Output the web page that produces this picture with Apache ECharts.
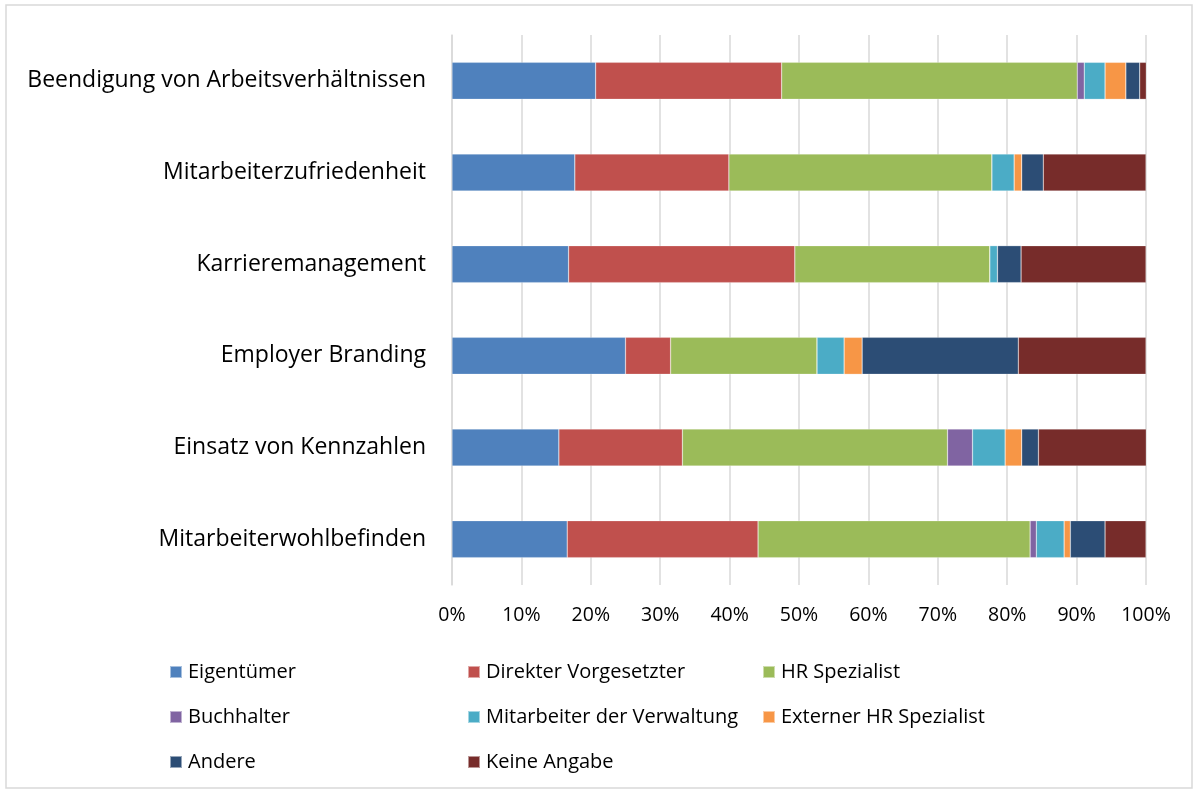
<!DOCTYPE html>
<html>
<head>
<meta charset="utf-8">
<script src="https://cdn.jsdelivr.net/npm/echarts@6/dist/echarts.min.js"></script>
<style>
html,body{margin:0;padding:0;background:#fff;}
#chart{width:1198px;height:792px;}
</style>
</head>
<body>
<div id="chart"></div>
<script>
const categories = ["Beendigung von Arbeitsverhältnissen","Mitarbeiterzufriedenheit","Karrieremanagement","Employer Branding","Einsatz von Kennzahlen","Mitarbeiterwohlbefinden"];
const seriesNames = ["Eigentümer","Direkter Vorgesetzter","HR Spezialist","Buchhalter","Mitarbeiter der Verwaltung","Externer HR Spezialist","Andere","Keine Angabe"];
const eigentuemer = [20.7,17.7,16.8,25.0,15.4,16.6];
const direkter = [26.8,22.2,32.6,6.5,17.8,27.5];
const hrSpezialist = [42.6,37.9,28.1,21.1,38.2,39.2];
const buchhalter = [1.0,0,0,0,3.6,0.9];
const mitarbeiterVerw = [3.0,3.2,1.1,3.9,4.7,4.0];
const externer = [3.0,1.1,0,2.6,2.4,0.9];
const andere = [2.0,3.1,3.4,22.5,2.4,5.0];
const keineAngabe = [1.0,14.8,18.0,18.4,15.6,5.9];
const xTicks = [0,10,20,30,40,50,60,70,80,90,100];

const values = [eigentuemer,direkter,hrSpezialist,buchhalter,mitarbeiterVerw,externer,andere,keineAngabe];
const colors = ["#4F81BD","#C0504D","#9BBB59","#8064A2","#4BACC6","#F79646","#2C4D75","#772C2A"];
const font = "'Open Sans', sans-serif";

const chart = echarts.init(document.getElementById('chart'));
const legendCommon = {
  orient:'vertical', top:657, itemWidth:12, itemHeight:12, itemGap:25,
  icon:'rect', selectedMode:false,
  textStyle:{fontFamily:font, fontSize:20, lineHeight:20, color:'#000', padding:[0,0,0,1]}
};
chart.setOption({
  animation:false,
  color:colors,
  graphic:[{type:'rect', shape:{x:6,y:5,width:1186,height:783}, style:{fill:'none', stroke:'#d9d9d9', lineWidth:1.5}}],
  grid:{left:452, top:35, width:694, height:550, containLabel:false},
  legend:[
    Object.assign({}, legendCommon, {left:164, data:[seriesNames[0],seriesNames[3],seriesNames[6]]}),
    Object.assign({}, legendCommon, {left:462, data:[seriesNames[1],seriesNames[4],seriesNames[7]]}),
    Object.assign({}, legendCommon, {left:757, data:[seriesNames[2],seriesNames[5]]})
  ],
  xAxis:{
    type:'value', min:0, max:100, interval:10,
    axisLine:{show:false},
    axisTick:{show:false},
    splitLine:{show:true, lineStyle:{color:'#d9d9d9', width:1.5}},
    axisLabel:{formatter:v=>v+'%', fontFamily:font, fontSize:19.5, color:'#000', margin:20,
      customValues: xTicks}
  },
  yAxis:{
    type:'category', data:categories, inverse:true,
    axisLine:{show:true, lineStyle:{color:'#d9d9d9', width:1.5}},
    axisTick:{show:false},
    axisLabel:{fontFamily:font, fontSize:23, color:'#000', margin:26}
  },
  series: seriesNames.map((n,i)=>({
    name:n, type:'bar', stack:'total', barWidth:37,
    data: values[i],
    itemStyle:{color:colors[i], borderColor:'rgba(255,255,255,0.5)', borderWidth:0.5}
  }))
});
</script>
</body>
</html>
